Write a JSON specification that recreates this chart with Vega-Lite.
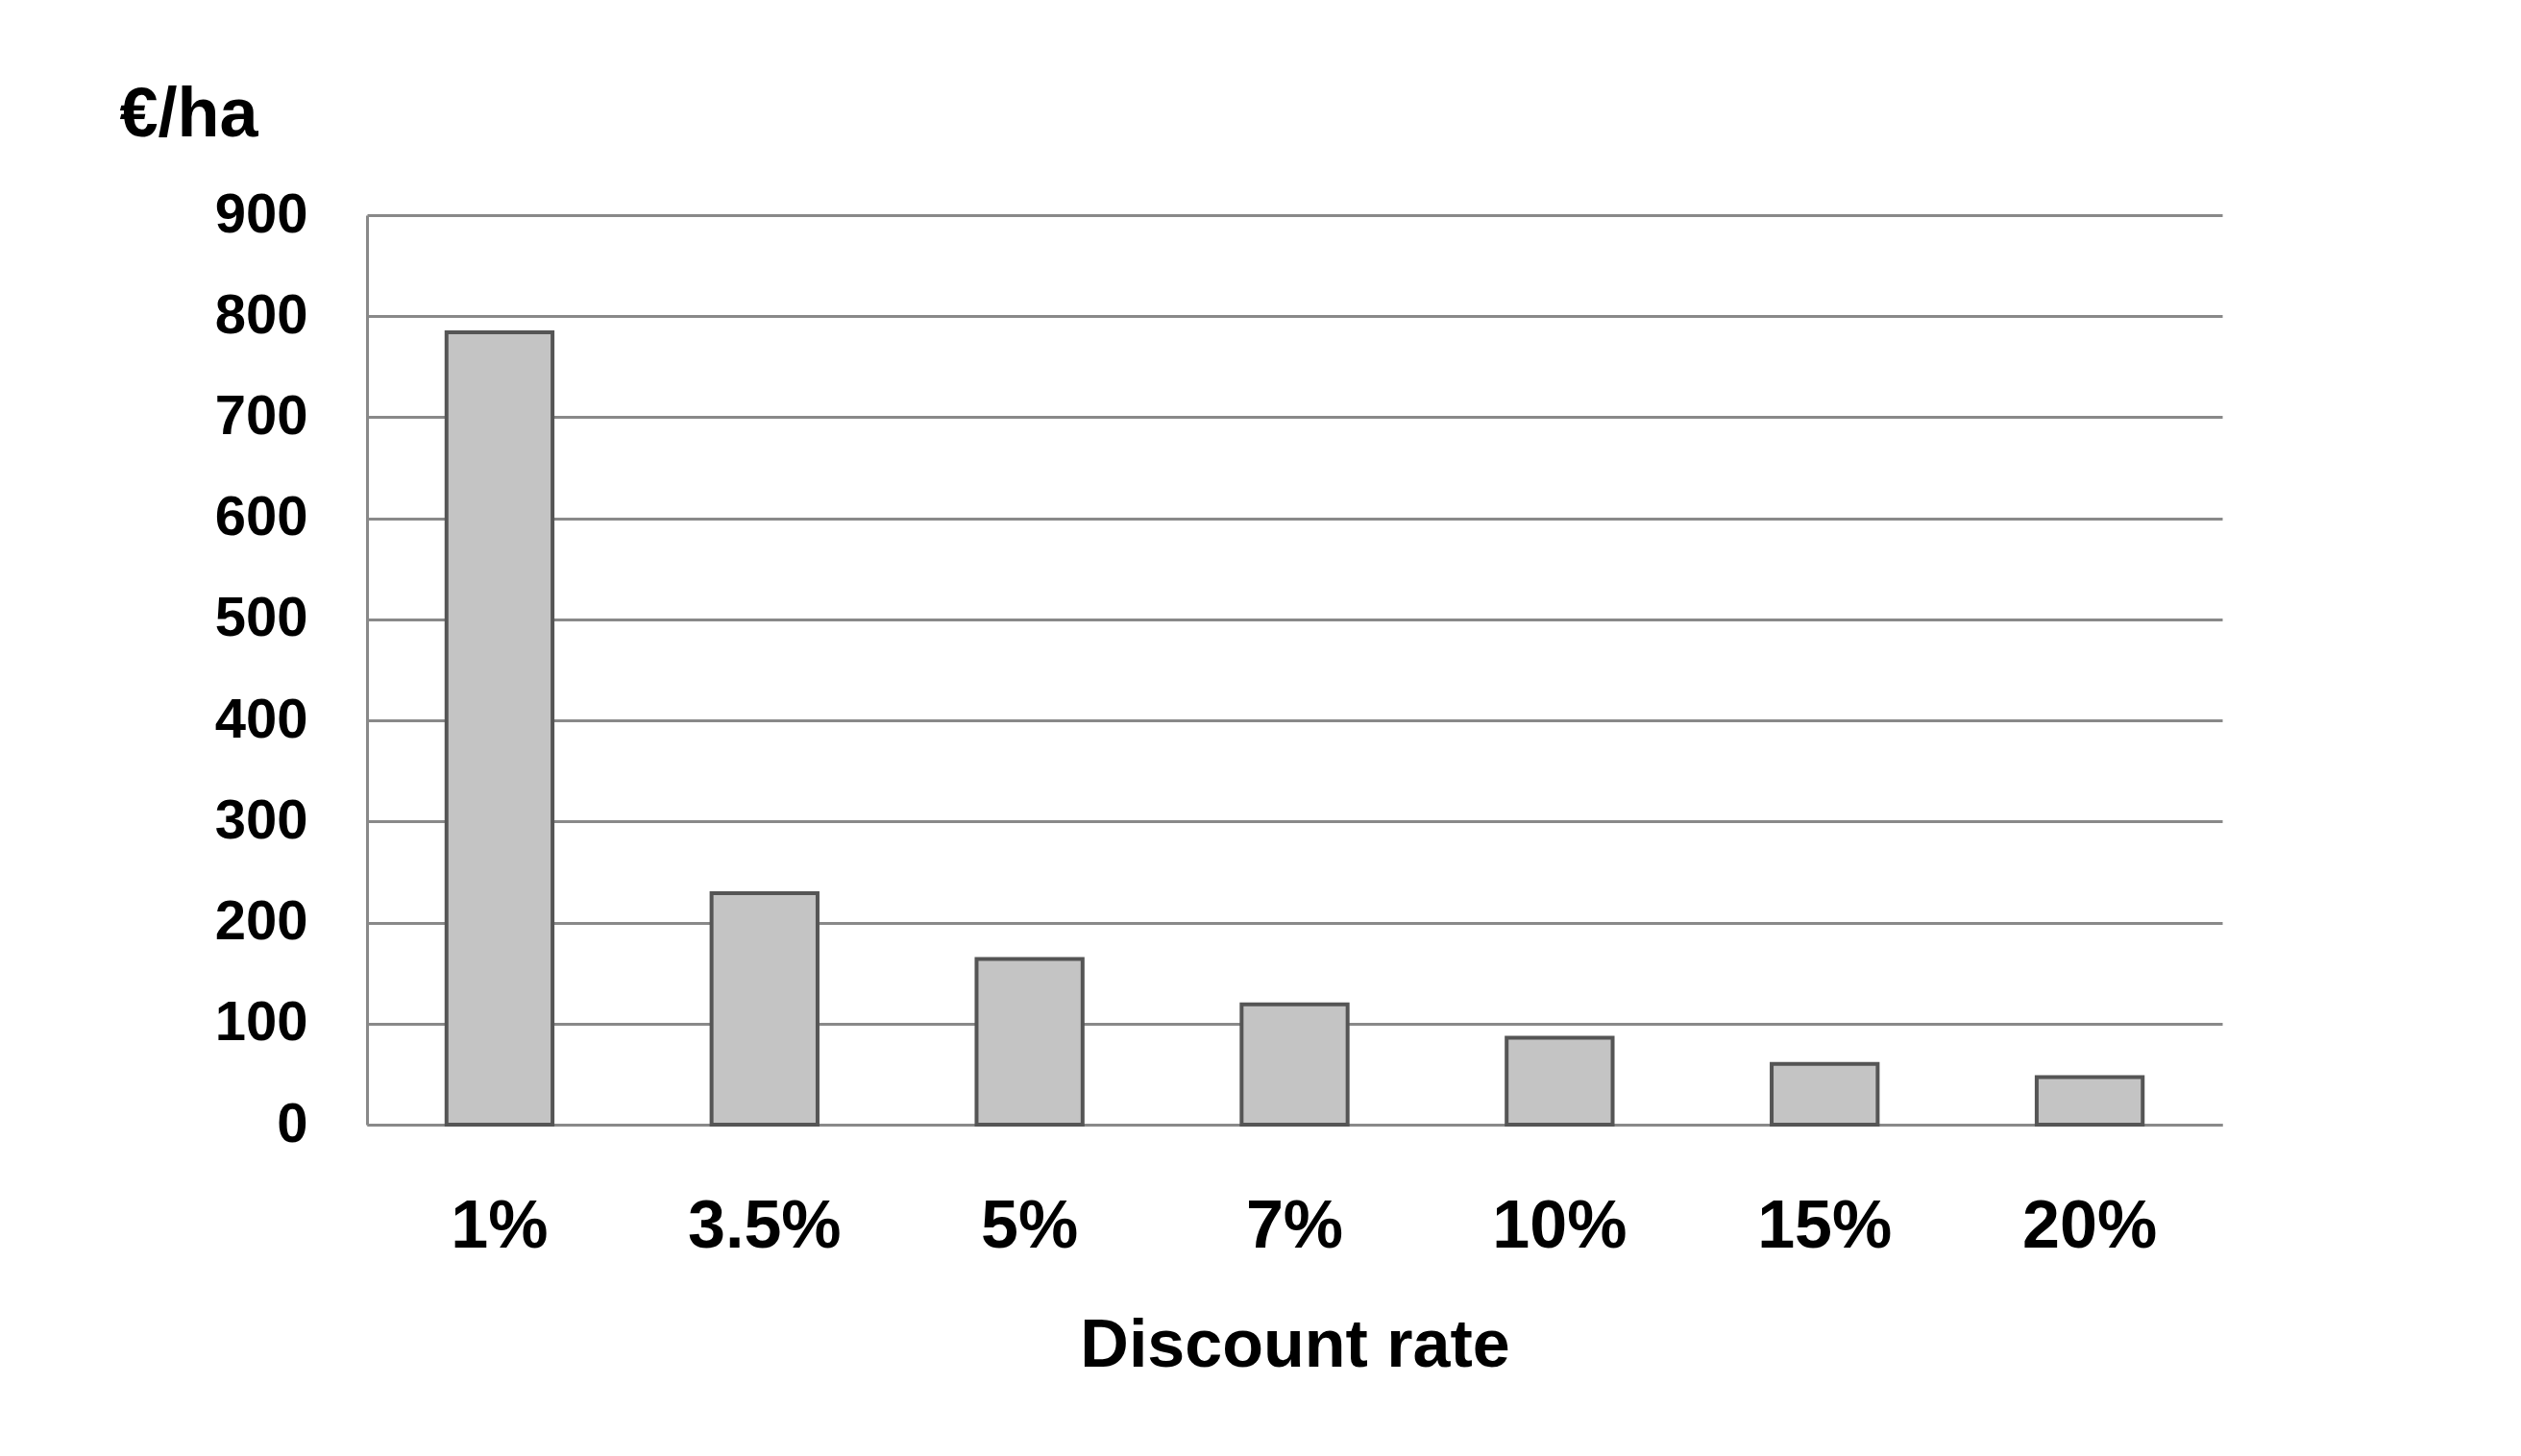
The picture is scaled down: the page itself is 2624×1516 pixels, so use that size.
{
  "$schema": "https://vega.github.io/schema/vega-lite/v6.json",
  "autosize": "none",
  "width": 1931,
  "height": 947,
  "padding": {"left": 382, "top": 224, "right": 311, "bottom": 345},
  "background": "white",
  "data": {
    "values": [
      {"rate": "1%", "value": 784},
      {"rate": "3.5%", "value": 229},
      {"rate": "5%", "value": 164},
      {"rate": "7%", "value": 119},
      {"rate": "10%", "value": 86},
      {"rate": "15%", "value": 60},
      {"rate": "20%", "value": 47}
    ]
  },
  "mark": {"type": "bar", "fill": "#c4c4c4", "stroke": "#555555", "strokeWidth": 4},
  "encoding": {
    "x": {
      "field": "rate",
      "type": "ordinal",
      "sort": null,
      "scale": {"paddingInner": 0.6, "paddingOuter": 0.3},
      "axis": {
        "title": "Discount rate",
        "labelAngle": 0,
        "labelFont": "Liberation Sans",
        "labelFontWeight": "bold",
        "labelFontSize": 70,
        "labelColor": "black",
        "labelPadding": 72,
        "ticks": false,
        "domainColor": "#898989",
        "domainWidth": 3,
        "titleFont": "Liberation Sans",
        "titleFontWeight": "bold",
        "titleFontSize": 70,
        "titleColor": "black",
        "titlePadding": 55
      }
    },
    "y": {
      "field": "value",
      "type": "quantitative",
      "scale": {"domain": [0, 900]},
      "axis": {
        "values": [0, 100, 200, 300, 400, 500, 600, 700, 800, 900],
        "title": "€/ha",
        "titleAngle": 0,
        "titleAlign": "left",
        "titleBaseline": "top",
        "titleX": -258,
        "titleY": -140,
        "titleFont": "Liberation Sans",
        "titleFontWeight": "bold",
        "titleFontSize": 72,
        "titleColor": "black",
        "labelFont": "Liberation Sans",
        "labelFontWeight": "bold",
        "labelFontSize": 58,
        "labelColor": "black",
        "labelPadding": 62,
        "ticks": false,
        "domainColor": "#898989",
        "domainWidth": 3,
        "gridColor": "#898989",
        "gridWidth": 3
      }
    }
  },
  "config": {"view": {"stroke": null}}
}
